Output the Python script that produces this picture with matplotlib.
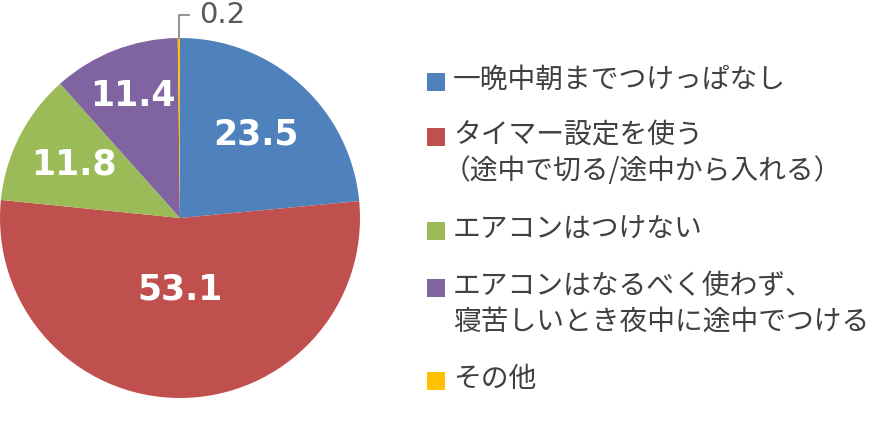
import matplotlib
matplotlib.use("Agg")
import matplotlib.pyplot as plt
from matplotlib.patches import Rectangle
import numpy as np

plt.rcParams["font.family"] = ["Noto Sans CJK JP", "DejaVu Sans"]

# ─── Dados ────────────────────────────────────────────────────────────────────
categorias = [
    "一晩中朝までつけっぱなし",
    "タイマー設定を使う\n（途中で切る/途中から入れる）",
    "エアコンはつけない",
    "エアコンはなるべく使わず、\n寝苦しいとき夜中に途中でつける",
    "その他",
]
valores = [23.5, 53.1, 11.8, 11.4, 0.2]
cores = ["#4F81BD", "#C0504D", "#9BBB59", "#8064A2", "#FFC000"]

# distância relativa de cada rótulo ao centro (posição estilo Excel)
dist_rotulo = [0.63, 0.40, 0.66, 0.73]

W, H = 890, 433
fig = plt.figure(figsize=(W / 100, H / 100), dpi=100)

# ─── Pizza ────────────────────────────────────────────────────────────────────
cx, cy, r = 180, 218, 180
ax = fig.add_axes([(cx - r) / W, 1 - (cy + r) / H, 2 * r / W, 2 * r / H])
fatias, _ = ax.pie(valores, colors=cores, startangle=90, counterclock=False,
                   radius=1.0, wedgeprops=dict(linewidth=0))
ax.set_xlim(-1, 1)
ax.set_ylim(-1, 1)
ax.set_aspect("equal")
ax.axis("off")

for fatia, v, d in zip(fatias, valores, dist_rotulo):
    ang = np.deg2rad((fatia.theta1 + fatia.theta2) / 2)
    ax.text(d * np.cos(ang), d * np.sin(ang), f"{v:.1f}", color="white",
            fontsize=25, fontweight="bold", family="DejaVu Sans",
            ha="center", va="center")

# rótulo externo da fatia pequena
ult = fatias[-1]
ang = np.deg2rad((ult.theta1 + ult.theta2) / 2)
x0 = np.cos(ang)
y_top = 1 + 23 / r
ax.plot([x0, x0, x0 + 10 / r], [np.sin(ang), y_top, y_top], color="#808080",
        lw=1.2, clip_on=False)
ax.text(x0 + 20 / r, y_top, f"{valores[-1]:.1f}", color="#595959", fontsize=21,
        family="DejaVu Sans", ha="left", va="center", clip_on=False)

# ─── Legenda ──────────────────────────────────────────────────────────────────
centros_y = [82, 137, 231, 288, 381]
passo_linha = 36
for cat, cor, yc in zip(categorias, cores, centros_y):
    fig.patches.append(Rectangle((427 / W, 1 - (yc + 9) / H), 18 / W, 18 / H,
                                 transform=fig.transFigure, facecolor=cor,
                                 edgecolor="none"))
    for i, linha in enumerate(cat.split("\n")):
        x_txt = 443 if linha.startswith("（") else 453
        fig.text(x_txt / W, 1 - (yc - 2 + i * passo_linha) / H, linha,
                 fontsize=20, color="#404040", ha="left", va="center")

fig.savefig("out.png", dpi=100)
